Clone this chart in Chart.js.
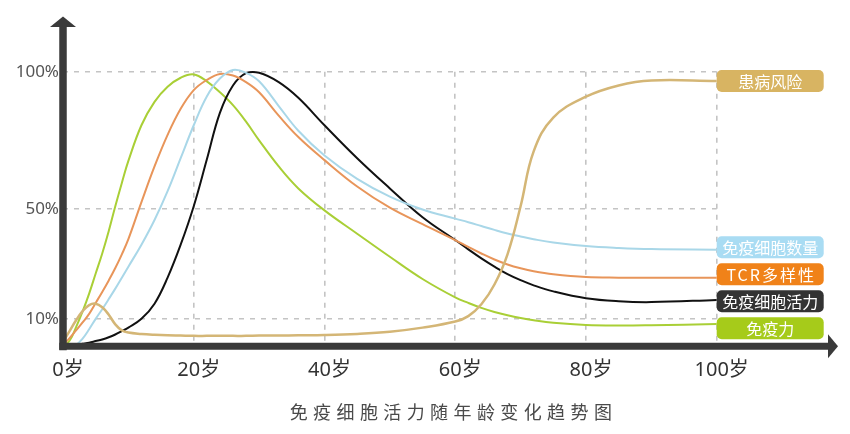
<!DOCTYPE html>
<html>
<head>
<meta charset="utf-8">
<script src="https://cdn.jsdelivr.net/npm/chart.js@4"></script>
<style>
  body { margin: 0; background: #fff; }
  #wrap { position: relative; width: 850px; height: 434px; }
  #caption {
    position: absolute; left: 26px; top: 401px; width: 850px;
    text-align: center; text-indent: 5px;
    font: 18px "Noto Sans CJK SC", sans-serif; line-height: 20px;
    letter-spacing: 5.4px; color: #4a4a4a;
  }
</style>
</head>
<body>
<div id="wrap">
  <canvas id="myChart"></canvas>
  <div id="caption">免疫细胞活力随年龄变化趋势图</div>
</div>
<script>
// ages (years) shared by all curves
var ages = [0,1,2,3,4,5,6,7,8,9,10,12,14,16,18,20,22,24,26,28,30,33,36,40,45,50,55,60,62,64,66,68,70,72,75,80,85,90,100];

// values in %
var riskValues     = [1.5,5.5,9.5,12.8,15,15.5,14.2,11.5,8,5.8,5,4.5,4.2,4,3.9,3.8,3.8,3.8,3.8,3.8,3.9,3.9,4,4.1,4.5,5.3,6.8,9,11,15.3,22.5,33.5,51,71,83.3,90.9,95,96.8,96.6];
var countValues    = [0,0,0.5,2.8,6.2,10,13.5,17.2,21,25,29,37,46,56.5,68.5,80.5,91,97.5,100.6,99.6,96.5,87.5,78.5,69.5,61,54.5,49.8,46.5,45.2,43.8,42.4,41.1,40,39,37.8,36.5,35.8,35.4,35.2];
var tcrValues      = [0.5,3,5.8,8.7,11.8,15.8,19.8,24,28.5,33.5,39,52.5,65.5,77,86.5,93.3,97,99.2,98.6,96.2,92.5,84,76.2,67.8,58.2,50.5,44.5,38.7,36.2,33.8,31.6,29.8,28.4,27.3,26.2,25.2,25,25,25];
var vitalityValues = [0,0.2,0.5,0.9,1.3,1.9,2.5,3.3,4.3,5.5,6.8,10,15.5,25,37,51,68,85,95,99.5,99.6,96.2,90.5,80.5,68.5,57.5,47,38.7,35.3,32,29,26.3,24.1,22.2,20,17.5,16.4,16.1,16.9];
var immunityValues = [0,2,7,12.7,19.2,26.5,33.8,42,51,59.5,67.5,80.5,89,94.5,97.8,99,96.5,92.5,87.8,81.8,75,65.5,57.5,49.5,41,32.6,24.5,17.8,15.8,14,12.5,11.3,10.3,9.5,8.6,7.8,7.6,7.7,8.1];

var seriesNames  = ['患病风险','免疫细胞数量','TCR多样性','免疫细胞活力','免疫力'];
var lineColors   = ['#d4b676','#a9d7e8','#e8955a','#111111','#a9cf36'];
var boxColors    = ['#d8b462','#a9dcf3','#f08219','#333333','#a6cb1a'];

var xTicks = [0,20,40,60,80,100];
var yTicks = [10,50,100];

function pts(vals) {
  return ages.map(function(a, i){ return {x: a, y: vals[i]}; });
}

var allValues = [riskValues, countValues, tcrValues, vitalityValues, immunityValues];
var datasets = allValues.map(function(v, i){
  return {
    label: seriesNames[i],
    data: pts(v),
    borderColor: lineColors[i],
    borderWidth: i === 0 ? 2.5 : 2,
    pointRadius: 0,
    tension: 0.4,
    clip: false
  };
});

// axes with arrows + end labels
var decorPlugin = {
  id: 'decor',
  afterDatasetsDraw: function(chart) {
    var ctx = chart.ctx;
    var xs = chart.scales.x, ys = chart.scales.y;
    var x0 = xs.getPixelForValue(0), y0 = ys.getPixelForValue(0);
    ctx.save();
    ctx.fillStyle = '#3a3a3a';
    ctx.strokeStyle = '#3a3a3a';
    ctx.lineWidth = 7.5;
    // y axis
    ctx.beginPath();
    ctx.moveTo(x0, y0 + 4);
    ctx.lineTo(x0, 26);
    ctx.stroke();
    ctx.beginPath();
    ctx.moveTo(x0 - 13, 27);
    ctx.lineTo(x0 + 13, 27);
    ctx.lineTo(x0, 16.5);
    ctx.closePath();
    ctx.fill();
    // x axis
    ctx.lineWidth = 7;
    ctx.beginPath();
    ctx.moveTo(x0 - 3.7, y0);
    ctx.lineTo(829, y0);
    ctx.stroke();
    ctx.beginPath();
    ctx.moveTo(828, y0 - 12);
    ctx.lineTo(828, y0 + 12);
    ctx.lineTo(838, y0);
    ctx.closePath();
    ctx.fill();

    // label boxes at line ends, spread so they don't collide
    var items = chart.data.datasets.map(function(ds, i){
      var last = ds.data[ds.data.length - 1];
      return {i: i, y: ys.getPixelForValue(last.y)};
    });
    items.sort(function(a, b){ return a.y - b.y; });
    var gap = 27;
    for (var k = 0; k < 40; k++) {
      for (var j = 1; j < items.length; j++) {
        var d = items[j].y - items[j-1].y;
        if (d < gap) {
          items[j].y += (gap - d) / 2;
          items[j-1].y -= (gap - d) / 2;
        }
      }
    }
    var bx = xs.getPixelForValue(100), bw = 107, bh = 22;
    ctx.font = '16px "Noto Sans CJK SC", sans-serif';
    ctx.textAlign = 'center';
    ctx.textBaseline = 'middle';
    items.forEach(function(it){
      ctx.fillStyle = boxColors[it.i];
      ctx.beginPath();
      ctx.roundRect(bx, it.y - bh / 2, bw, bh, 5);
      ctx.fill();
      ctx.fillStyle = '#ffffff';
      ctx.letterSpacing = it.i === 2 ? '2px' : '0px';
      ctx.fillText(seriesNames[it.i], bx + bw / 2 + (it.i === 2 ? 1 : 0), it.y + 1);
    });
    ctx.restore();
  }
};

var ctx = document.getElementById('myChart').getContext('2d');
var myChart = new Chart(ctx, {
  type: 'line',
  data: { datasets: datasets },
  plugins: [decorPlugin],
  options: {
    responsive: true,
    maintainAspectRatio: false,
    animation: false,
    layout: { padding: { top: 71.7, right: 133.3, left: 0, bottom: 0 } },
    plugins: { legend: { display: false }, tooltip: { enabled: false } },
    scales: {
      x: {
        type: 'linear',
        min: 0, max: 100,
        afterFit: function(s){ s.height = 87.7; },
        afterBuildTicks: function(s){ s.ticks = xTicks.map(function(v){ return {value: v}; }); },
        grid: { color: '#c4c4c4', lineWidth: 1.6, drawTicks: false },
        border: { display: false, dash: [5, 6] },
        ticks: {
          padding: 12,
          labelOffset: 5,
          color: '#333',
          font: { size: 20, family: '"Noto Sans", "Noto Sans CJK SC", sans-serif' },
          callback: function(v){ return v + '岁'; }
        }
      },
      y: {
        min: 0, max: 100,
        afterFit: function(s){ s.width = 63; },
        afterBuildTicks: function(s){ s.ticks = yTicks.map(function(v){ return {value: v}; }); },
        grid: { color: '#c4c4c4', lineWidth: 1.6, drawTicks: false },
        border: { display: false, dash: [5, 6] },
        ticks: {
          padding: 4,
          color: '#555',
          font: { size: 17, family: '"Noto Sans", sans-serif' },
          callback: function(v){ return v + '%'; }
        }
      }
    }
  }
});
</script>
</body>
</html>
